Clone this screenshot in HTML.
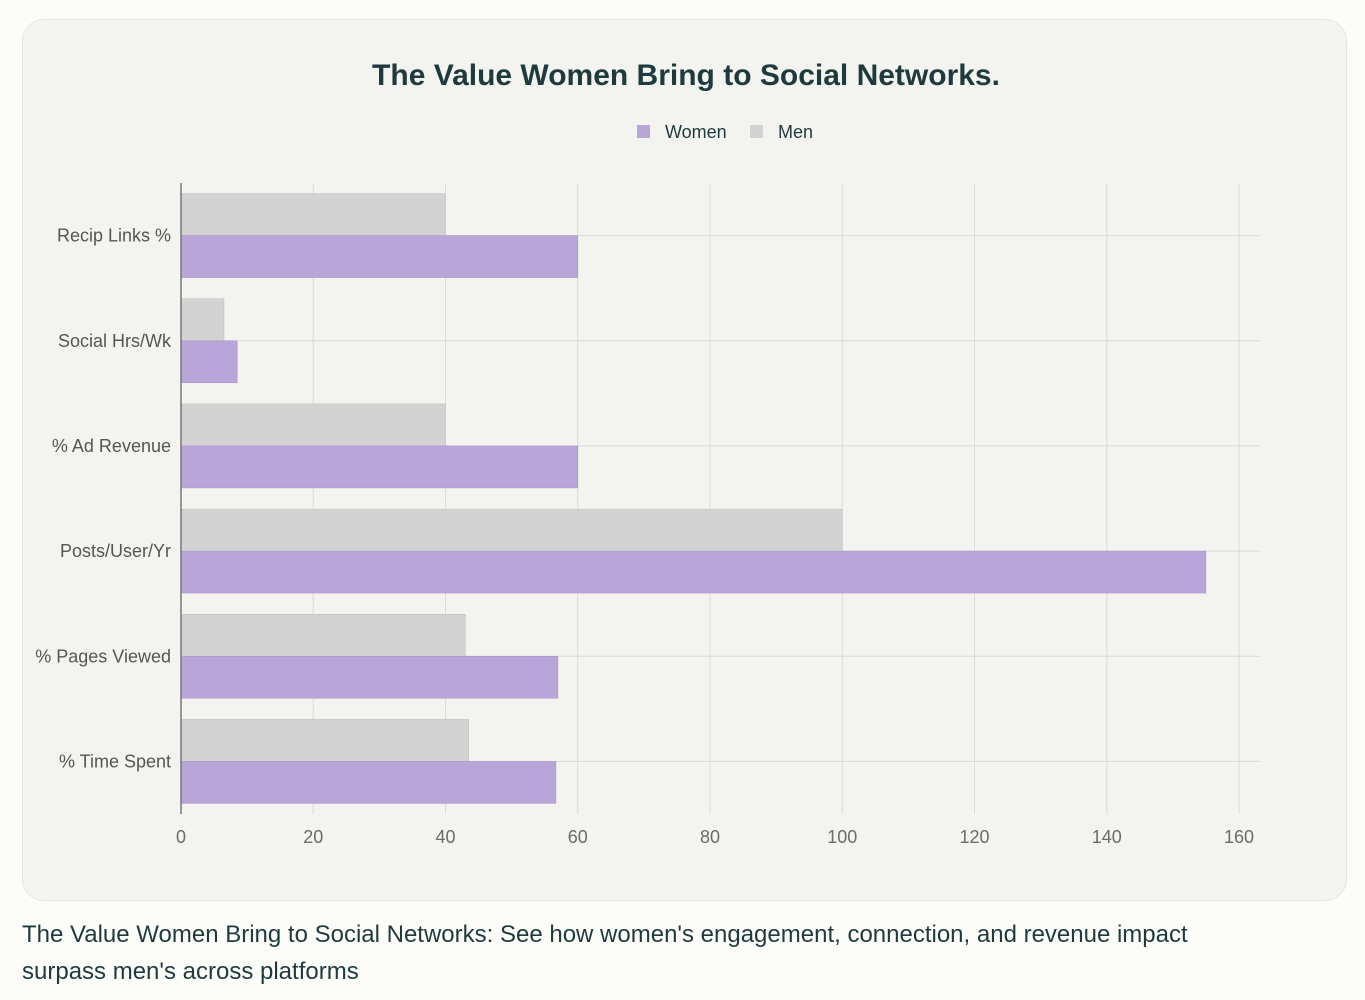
<!DOCTYPE html>
<html><head><meta charset="utf-8"><style>
html,body{margin:0;padding:0;background:#fcfcf9;width:1365px;height:1000px;overflow:hidden;font-family:"Liberation Sans",sans-serif;}
#card{position:absolute;left:22px;top:19px;width:1325px;height:882px;background:#f3f3ef;border:1px solid #e6e6e0;border-radius:22px;box-sizing:border-box;}
#caption{position:absolute;left:22px;top:916px;width:1235px;font-size:24px;line-height:37px;color:#1f3a3d;}
svg{position:absolute;left:0;top:0;}
</style></head><body>
<div id="card"></div>
<svg id="chart" width="1365" height="1000">
<text x="686" y="85" text-anchor="middle" font-size="30" font-weight="bold" fill="#1f3a3d">The Value Women Bring to Social Networks.</text>
<g>
<g><rect x="637" y="125" width="13" height="13" fill="#b9a6d8"/><text x="665" y="138" font-size="18" fill="#1f3a3d">Women</text></g>
<g><rect x="750" y="125" width="13" height="13" fill="#d3d3d3"/><text x="778" y="138" font-size="18" fill="#1f3a3d">Men</text></g>
</g>
<g id="grid"></g>
<g id="bars"></g>
<g id="axes"></g>
</svg>
<div id="caption">The Value Women Bring to Social Networks: See how women's engagement, connection, and revenue impact surpass men's across platforms</div>
<script>
const categories = ["Recip Links %","Social Hrs/Wk","% Ad Revenue","Posts/User/Yr","% Pages Viewed","% Time Spent"];
const menValues = [40, 6.5, 40, 100, 43, 43.5];
const womenValues = [60, 8.5, 60, 155, 57, 56.7];
const xTicks = [0,20,40,60,80,100,120,140,160];

const NS="http://www.w3.org/2000/svg";
const x0=181, pxPer=(1239-181)/160, plotTop=183, plotBottom=814, plotRight=1260;
const band=(plotBottom-plotTop)/categories.length;
const xScale=v=>x0+v*pxPer;
const yc=i=>plotTop+band*(i+0.5);
function mk(tag,attrs,parent){const e=document.createElementNS(NS,tag);for(const k in attrs)e.setAttribute(k,attrs[k]);parent.appendChild(e);return e;}
const grid=document.getElementById('grid'),bars=document.getElementById('bars'),axes=document.getElementById('axes');
xTicks.forEach(t=>{
  const l=mk('line',{x1:xScale(t),x2:xScale(t),y1:plotTop,y2:plotBottom,stroke:'#dcdcd6','stroke-width':1},grid);
  
  
  const tx=mk('text',{x:xScale(t),y:843,'text-anchor':'middle','font-size':18,fill:'#6b6b6b'},axes);
  tx.textContent=t;
  
  
});
categories.forEach((c,i)=>{
  const l=mk('line',{x1:x0,x2:plotRight,y1:yc(i),y2:yc(i),stroke:'#dcdcd6','stroke-width':1},grid);
  
  
  const bh=42;
  const m=mk('rect',{x:x0,y:yc(i)-bh,width:xScale(menValues[i])-x0,height:bh,fill:'#d3d3d3',stroke:'#bdbdbd','stroke-width':0.5},bars);
  
  
  const w=mk('rect',{x:x0,y:yc(i),width:xScale(womenValues[i])-x0,height:bh,fill:'#b9a6d8',stroke:'#a794c8','stroke-width':0.5},bars);
  
  
  const tx=mk('text',{x:171,y:yc(i)+6,'text-anchor':'end','font-size':18,fill:'#555'},axes);
  tx.textContent=c;
  
  
});
const ax=mk('line',{x1:x0,x2:x0,y1:plotTop,y2:plotBottom,stroke:'#777','stroke-width':1.5},axes);


</script>
</body></html>
